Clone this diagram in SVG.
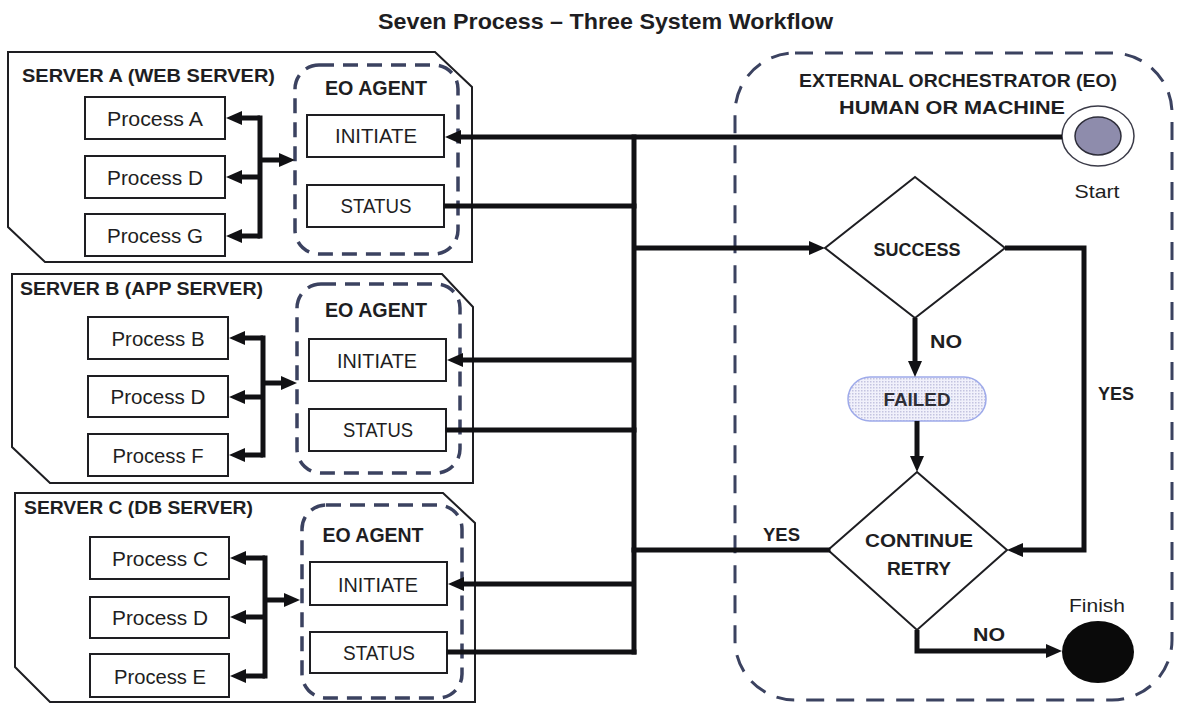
<svg xmlns="http://www.w3.org/2000/svg" width="1181" height="705" viewBox="0 0 1181 705">
  <style>
    text { font-family: "Liberation Sans", Arial, sans-serif; fill: #1e1e22; }
    .title { font-size: 22px; font-weight: bold; }
    .srv { font-size: 19px; font-weight: bold; }
    .agent { font-size: 20px; font-weight: bold; }
    .proc { font-size: 21px; text-anchor: middle; }
    .cmd { font-size: 20px; text-anchor: middle; }
    .lbl { font-size: 19px; font-weight: bold; }
    .plain { font-size: 19px; text-anchor: middle; }
    .server { fill: #ffffff; stroke: #1e1e22; stroke-width: 2; }
    .box { fill: #ffffff; stroke: #1e1e22; stroke-width: 2; }
    .agentbox { fill: none; stroke: #3b4260; stroke-width: 3.5; stroke-dasharray: 15 9; }
    .eo { fill: none; stroke: #3b4260; stroke-width: 3; stroke-dasharray: 18 12; }
    .wire { fill: none; stroke: #111114; stroke-width: 5; stroke-linecap: square; }
    .arrow { fill: none; stroke: #111114; stroke-width: 5; marker-end: url(#head); }
    .diamond { fill: #ffffff; stroke: #1e1e22; stroke-width: 2; }
  </style>
  <defs>
    <marker id="head" viewBox="0 -7 16 14" refX="2" refY="0" markerWidth="16" markerHeight="14" markerUnits="userSpaceOnUse" orient="auto">
      <path d="M0,-7 L16,0 L0,7 Z" fill="#111114"/>
    </marker>
    <pattern id="dots" width="3" height="3" patternUnits="userSpaceOnUse">
      <rect width="3" height="3" fill="#f1f1fb"/>
      <rect width="1.5" height="1.5" fill="#c4c4e0"/>
    </pattern>
  </defs>

  <rect width="1181" height="705" fill="#ffffff"/>

  <text class="title" x="378" y="29" textLength="455" lengthAdjust="spacingAndGlyphs">Seven Process – Three System Workflow</text>

  <!-- External orchestrator region -->
  <g id="orchestrator">
    <rect class="eo" x="735" y="53" width="437" height="647" rx="60"/>
    <text class="lbl" x="958" y="87" text-anchor="middle" textLength="318" lengthAdjust="spacingAndGlyphs">EXTERNAL ORCHESTRATOR (EO)</text>
    <text class="lbl" x="952" y="114" text-anchor="middle" textLength="226" lengthAdjust="spacingAndGlyphs">HUMAN OR MACHINE</text>
  </g>

  <!-- Server A -->
  <g id="server-a">
    <polygon class="server" points="8,52 435,52 472,87 472,262 45,262 8,227"/>
    <text class="srv" x="22" y="82" textLength="253" lengthAdjust="spacingAndGlyphs">SERVER A (WEB SERVER)</text>
    <g id="proc-a"><rect class="box" x="85" y="97" width="140" height="42"/><text class="proc" x="155" y="126" textLength="96" lengthAdjust="spacingAndGlyphs">Process A</text></g>
    <g id="proc-a-d"><rect class="box" x="85" y="156" width="140" height="42"/><text class="proc" x="155" y="185" textLength="96" lengthAdjust="spacingAndGlyphs">Process D</text></g>
    <g id="proc-g"><rect class="box" x="85" y="214" width="140" height="42"/><text class="proc" x="155" y="243" textLength="96" lengthAdjust="spacingAndGlyphs">Process G</text></g>
    <g id="agent-a">
      <rect class="agentbox" x="295" y="65" width="163" height="189" rx="24"/>
      <text class="agent" x="376" y="95" text-anchor="middle" textLength="102" lengthAdjust="spacingAndGlyphs">EO AGENT</text>
      <rect class="box" x="307" y="115" width="137" height="42"/>
      <text class="cmd" x="376" y="143" textLength="82" lengthAdjust="spacingAndGlyphs">INITIATE</text>
      <rect class="box" x="307" y="185" width="137" height="42"/>
      <text class="cmd" x="376" y="213" textLength="71" lengthAdjust="spacingAndGlyphs">STATUS</text>
    </g>
  </g>

  <!-- Server B -->
  <g id="server-b">
    <polygon class="server" points="12,274 442,274 473,307 473,483 50,483 12,447"/>
    <text class="srv" x="20" y="295" textLength="243" lengthAdjust="spacingAndGlyphs">SERVER B (APP SERVER)</text>
    <g id="proc-b"><rect class="box" x="88" y="317" width="140" height="42"/><text class="proc" x="158" y="346" textLength="93" lengthAdjust="spacingAndGlyphs">Process B</text></g>
    <g id="proc-b-d"><rect class="box" x="88" y="376" width="140" height="41"/><text class="proc" x="158" y="404" textLength="95" lengthAdjust="spacingAndGlyphs">Process D</text></g>
    <g id="proc-f"><rect class="box" x="88" y="434" width="140" height="42"/><text class="proc" x="158" y="463" textLength="91" lengthAdjust="spacingAndGlyphs">Process F</text></g>
    <g id="agent-b">
      <rect class="agentbox" x="297" y="284" width="163" height="189" rx="24"/>
      <text class="agent" x="376" y="317" text-anchor="middle" textLength="102" lengthAdjust="spacingAndGlyphs">EO AGENT</text>
      <rect class="box" x="309" y="339" width="137" height="42"/>
      <text class="cmd" x="377" y="368" textLength="80" lengthAdjust="spacingAndGlyphs">INITIATE</text>
      <rect class="box" x="309" y="409" width="137" height="42"/>
      <text class="cmd" x="378" y="437" textLength="70" lengthAdjust="spacingAndGlyphs">STATUS</text>
    </g>
  </g>

  <!-- Server C -->
  <g id="server-c">
    <polygon class="server" points="15,493 443,493 475,523 475,702 50,702 15,667"/>
    <text class="srv" x="24" y="514" textLength="229" lengthAdjust="spacingAndGlyphs">SERVER C (DB SERVER)</text>
    <g id="proc-c"><rect class="box" x="90" y="537" width="139" height="42"/><text class="proc" x="160" y="566" textLength="96" lengthAdjust="spacingAndGlyphs">Process C</text></g>
    <g id="proc-c-d"><rect class="box" x="90" y="597" width="139" height="41"/><text class="proc" x="160" y="625" textLength="96" lengthAdjust="spacingAndGlyphs">Process D</text></g>
    <g id="proc-e"><rect class="box" x="90" y="654" width="139" height="43"/><text class="proc" x="160" y="684" textLength="92" lengthAdjust="spacingAndGlyphs">Process E</text></g>
    <g id="agent-c">
      <rect class="agentbox" x="302" y="505" width="160" height="193" rx="24"/>
      <text class="agent" x="373" y="542" text-anchor="middle" textLength="101" lengthAdjust="spacingAndGlyphs">EO AGENT</text>
      <rect class="box" x="310" y="562" width="137" height="43"/>
      <text class="cmd" x="378" y="592" textLength="80" lengthAdjust="spacingAndGlyphs">INITIATE</text>
      <rect class="box" x="310" y="632" width="137" height="41"/>
      <text class="cmd" x="379" y="660" textLength="72" lengthAdjust="spacingAndGlyphs">STATUS</text>
    </g>
  </g>

  <!-- Orchestrator flow nodes -->
  <g id="start">
    <ellipse cx="1098" cy="136" rx="36" ry="30" fill="#ffffff" stroke="#3b3b48" stroke-width="1.5"/>
    <ellipse cx="1098" cy="136" rx="23" ry="19" fill="#8e8cac" stroke="#2e2e3a" stroke-width="1.5"/>
    <text class="plain" x="1097" y="198" textLength="45" lengthAdjust="spacingAndGlyphs">Start</text>
  </g>
  <g id="success">
    <polygon class="diamond" points="915,177 1005,248 915,318 825,248"/>
    <text class="lbl" x="917" y="256" text-anchor="middle" textLength="87" lengthAdjust="spacingAndGlyphs">SUCCESS</text>
  </g>
  <g id="failed">
    <rect x="848" y="377" width="138" height="44" rx="22" fill="url(#dots)" stroke="#9eaaea" stroke-width="1.5"/>
    <text class="lbl" x="917" y="406" text-anchor="middle" textLength="67" lengthAdjust="spacingAndGlyphs" style="fill:#2e2e36">FAILED</text>
  </g>
  <g id="continue-retry">
    <polygon class="diamond" points="917,472 1007,550 917,630 828,550"/>
    <text class="lbl" x="919" y="547" text-anchor="middle" textLength="108" lengthAdjust="spacingAndGlyphs">CONTINUE</text>
    <text class="lbl" x="919" y="575" text-anchor="middle" textLength="64" lengthAdjust="spacingAndGlyphs">RETRY</text>
  </g>
  <g id="finish">
    <ellipse cx="1098" cy="652" rx="36" ry="31" fill="#0a0a0a"/>
    <text class="plain" x="1097" y="612" textLength="56" lengthAdjust="spacingAndGlyphs">Finish</text>
  </g>

  <!-- Connectors -->
  <g id="connectors">
    <!-- fan-out inside server A -->
    <path class="wire" d="M260,118 V236"/>
    <path class="arrow" d="M260,118 H240"/>
    <path class="arrow" d="M260,177 H240"/>
    <path class="arrow" d="M260,236 H240"/>
    <path class="arrow" d="M260,160 H281"/>
    <!-- fan-out inside server B -->
    <path class="wire" d="M263,338 V455"/>
    <path class="arrow" d="M263,338 H243"/>
    <path class="arrow" d="M263,397 H243"/>
    <path class="arrow" d="M263,455 H243"/>
    <path class="arrow" d="M263,383 H283"/>
    <!-- fan-out inside server C -->
    <path class="wire" d="M265,558 V676"/>
    <path class="arrow" d="M265,558 H244"/>
    <path class="arrow" d="M265,617 H244"/>
    <path class="arrow" d="M265,676 H244"/>
    <path class="arrow" d="M265,600 H286"/>

    <!-- orchestrator bus -->
    <path class="wire" d="M634,137 V652"/>
    <path class="arrow" d="M1062,137 H459"/>
    <path class="wire" d="M446,206 H634"/>
    <path class="arrow" d="M634,248 H811"/>
    <path class="arrow" d="M634,360 H461"/>
    <path class="wire" d="M448,430 H634"/>
    <path class="wire" d="M828,550 H634"/>
    <path class="arrow" d="M634,584 H462"/>
    <path class="wire" d="M449,652 H634"/>

    <!-- decision flow -->
    <path class="arrow" d="M915,318 V363"/>
    <path class="arrow" d="M917,421 V458"/>
    <path class="arrow" d="M1005,248 H1084 V550 H1021"/>
    <path class="arrow" d="M917,630 V651 H1048"/>
  </g>

  <!-- Branch labels -->
  <g id="branch-labels">
    <text class="lbl" x="930" y="348" textLength="32" lengthAdjust="spacingAndGlyphs">NO</text>
    <text class="lbl" x="1098" y="400" textLength="36" lengthAdjust="spacingAndGlyphs">YES</text>
    <text class="lbl" x="763" y="541" textLength="37" lengthAdjust="spacingAndGlyphs">YES</text>
    <text class="lbl" x="973" y="641" textLength="32" lengthAdjust="spacingAndGlyphs">NO</text>
  </g>
</svg>
